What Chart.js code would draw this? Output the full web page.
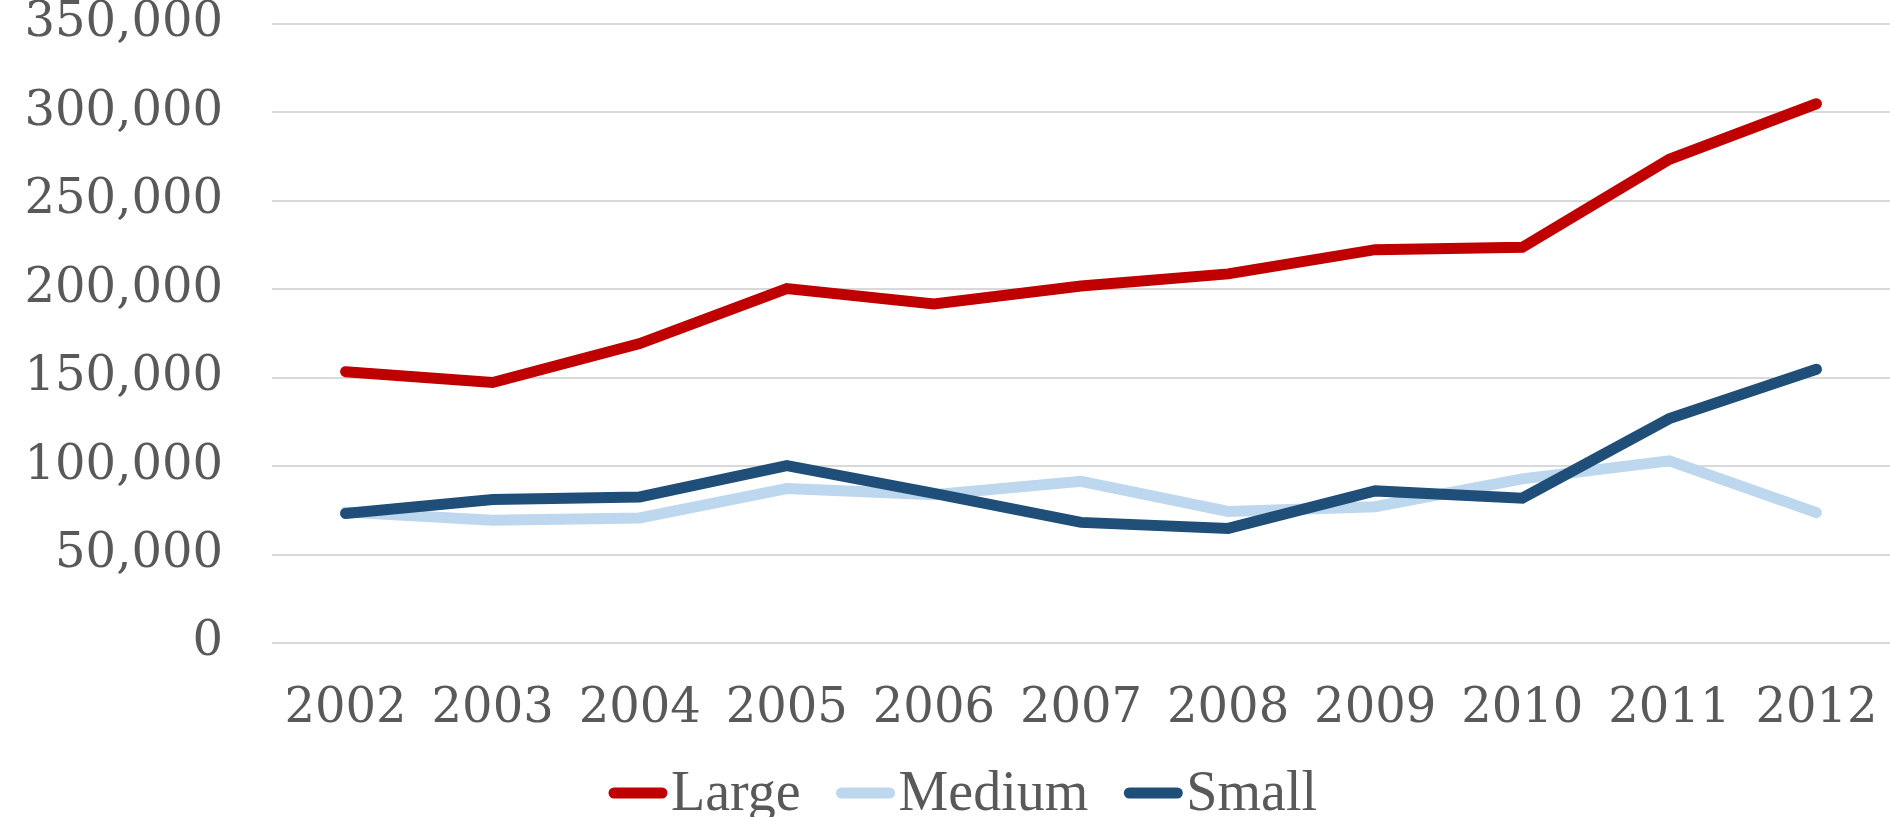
<!DOCTYPE html>
<html>
<head>
<meta charset="utf-8">
<script src="https://cdn.jsdelivr.net/npm/chart.js@4/dist/chart.umd.min.js"></script>
<style>
  html, body { margin: 0; padding: 0; background: #fff; }
  #wrap { width: 1890px; height: 817px; }
</style>
</head>
<body>
<div id="wrap"><canvas id="chart"></canvas></div>
<script>
// ── Data ─────────────────────────────────────────────
const years  = ['2002','2003','2004','2005','2006','2007','2008','2009','2010','2011','2012'];
const large  = [153400, 147300, 169300, 200400, 191700, 201900, 208700, 222400, 223700, 273500, 304900];
const medium = [74000, 69400, 70700, 87300, 83900, 91400, 74400, 77100, 92800, 103000, 73700];
const small  = [73200, 81100, 82600, 100300, 84600, 68200, 64800, 86000, 81900, 126900, 154800];

const seriesNames  = ['Large', 'Medium', 'Small'];
const seriesColors = ['#C00000', '#BDD7EE', '#1F4E79'];

const TEXT = '#595959';
const GRID = '#D9D9D9';
const TICK_FONT = "'DejaVu Serif', serif";
const LEGEND_FONT = "'Liberation Serif', serif";

// ── Legend drawn by hand (tight swatch/text gap like Excel) ──
const lineLegend = {
  id: 'lineLegend',
  afterDraw(chart) {
    const { ctx, chartArea } = chart;
    const sw = 58, gap = 4, itemGap = 36;
    ctx.save();
    ctx.font = `56px ${LEGEND_FONT}`;
    const widths = seriesNames.map(n => ctx.measureText(n).width);
    const total = widths.reduce((a, w) => a + sw + gap + w, 0) + itemGap * (seriesNames.length - 1);
    let x = 963 - total / 2;
    const y = chartArea.bottom + 150;
    seriesNames.forEach((name, i) => {
      ctx.strokeStyle = seriesColors[i];
      ctx.lineWidth = 11;
      ctx.lineCap = 'round';
      ctx.beginPath();
      ctx.moveTo(x + 5, y);
      ctx.lineTo(x + sw - 5, y);
      ctx.stroke();
      ctx.fillStyle = TEXT;
      ctx.textBaseline = 'middle';
      ctx.textAlign = 'left';
      ctx.fillText(name, x + sw + gap, y + 2);
      x += sw + gap + widths[i] + itemGap;
    });
    ctx.restore();
  },
};

// drop the label-overflow padding chart.js adds, so the plot box matches
function noPad(s) {
  s.paddingTop = 0; s.paddingBottom = 0; s.paddingLeft = 0; s.paddingRight = 0;
}

const datasets = [large, medium, small].map((vals, i) => ({
  label: seriesNames[i],
  data: vals,
  borderColor: seriesColors[i],
  backgroundColor: seriesColors[i],
  borderWidth: 11,
  borderCapStyle: 'round',
  borderJoinStyle: 'miter',
  pointRadius: 0,
  tension: 0,
  fill: false,
  order: 3 - i,
}));

new Chart(document.getElementById('chart'), {
  type: 'line',
  data: { labels: years, datasets },
  plugins: [lineLegend],
  options: {
    responsive: true,
    maintainAspectRatio: false,
    animation: false,
    layout: { padding: { top: 24, left: 0, right: 0, bottom: 0 } },
    plugins: {
      legend: { display: false },
      tooltip: { enabled: false },
    },
    scales: {
      x: {
        offset: true,
        grid: { display: false, drawTicks: false },
        border: { display: false },
        ticks: {
          color: TEXT,
          font: { family: TICK_FONT, size: 48 },
          padding: 38,
          maxRotation: 0,
          autoSkip: false,
        },
        afterFit: (s) => { s.height = 174; noPad(s); },
      },
      y: {
        min: 0,
        max: 350000,
        grid: { color: GRID, lineWidth: 2, drawTicks: false },
        border: { display: false },
        ticks: {
          stepSize: 50000,
          color: TEXT,
          font: { family: TICK_FONT, size: 48 },
          padding: 49,
          callback: (v) => v.toLocaleString('en-US'),
        },
        afterFit: (s) => { s.width = 272; noPad(s); },
      },
    },
  },
});
</script>
</body>
</html>
